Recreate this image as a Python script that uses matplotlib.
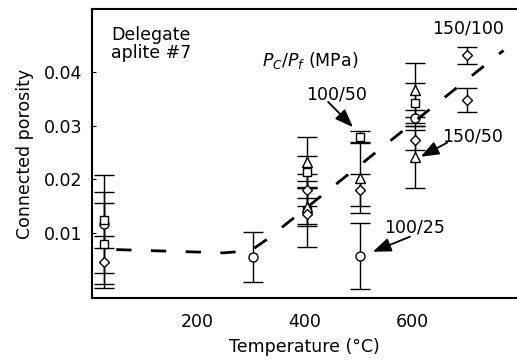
import numpy as np
import matplotlib
matplotlib.use("Agg")
import matplotlib.pyplot as plt

plt.rcParams["font.family"] = ["DejaVu Sans"]
plt.rcParams["mathtext.fontset"] = "dejavusans"

# Pc/Pf = 100/25 (circles)
circ_t = [28, 305, 503, 605]
circ_v = [0.0117, 0.0055, 0.0057, 0.0314]
circ_e = [0.0091, 0.0046, 0.0061, 0.0015]

# Pc/Pf = 100/50 (squares)
sq_t = [28, 28, 405, 405, 503, 605]
sq_v = [0.0124, 0.0080, 0.0214, 0.0141, 0.0279, 0.0342]
sq_e = [0.0052, 0.0075, 0.0030, 0.0025, 0.0010, 0.0037]

# Pc/Pf = 150/50 (triangles)
tri_t = [405, 405, 503, 605, 605]
tri_v = [0.0232, 0.0148, 0.0202, 0.0366, 0.0242]
tri_e = [0.0047, 0.0035, 0.0065, 0.0050, 0.0058]

# Pc/Pf = 150/100 (diamonds)
dia_t = [28, 405, 405, 503, 605, 702, 702]
dia_v = [0.0046, 0.0180, 0.0135, 0.0180, 0.0273, 0.0431, 0.0348]
dia_e = [0.0048, 0.0030, 0.0062, 0.0030, 0.0019, 0.0016, 0.0022]

# hand-drawn trend line
trend_t = [50, 150, 250, 300, 330, 770]
trend_v = [0.0069, 0.0066, 0.0063, 0.0067, 0.0088, 0.0440]

fs = 12.5

fig = plt.figure(figsize=(5.17, 3.62), dpi=100)
ax = fig.add_axes([0.178, 0.177, 0.822, 0.798])

series = [
    (circ_t, circ_v, circ_e, "o", 6.5),
    (sq_t, sq_v, sq_e, "s", 5.5),
    (tri_t, tri_v, tri_e, "^", 6.5),
    (dia_t, dia_v, dia_e, "D", 5.5),
]
for t, v, e, m, ms in series:
    ax.errorbar(t, v, yerr=e, fmt=m, ms=ms, mfc="white", mec="black", mew=1,
                ecolor="black", elinewidth=1, capsize=7, capthick=1, zorder=3)

ax.plot(trend_t, trend_v, color="black", lw=2, dashes=(5.5, 7), zorder=4)

ax.set_xlim(5, 795)
ax.set_ylim(-0.0021, 0.0517)
ax.set_xticks([200, 400, 600])
ax.set_yticks([0.01, 0.02, 0.03, 0.04])
ax.set_yticklabels(["0.01", "0.02", "0.03", "0.04"])
ax.tick_params(axis="x", direction="in", length=0, pad=11, labelsize=fs)
ax.tick_params(axis="y", direction="in", length=3, pad=7, labelsize=fs)
ax.spines["right"].set_visible(False)
for s in ["left", "top", "bottom"]:
    ax.spines[s].set_linewidth(1.5)

ax.set_xlabel("Temperature (°C)", fontsize=fs, labelpad=5)
ax.set_ylabel("Connected porosity", fontsize=fs, labelpad=7)

ax.text(0.045, 0.94, "Delegate\naplite #7", transform=ax.transAxes,
        fontsize=fs, va="top", ha="left", linespacing=1.0)
ax.text(321, 0.0422, r"$P_C/P_f$ (MPa)", fontsize=fs, va="center", ha="left")
ax.text(704, 0.0480, "150/100", fontsize=fs, va="center", ha="center")
ax.text(460, 0.0357, "100/50", fontsize=fs, va="center", ha="center")
ax.text(712, 0.0279, "150/50", fontsize=fs, va="center", ha="center")
ax.text(605, 0.0111, "100/25", fontsize=fs, va="center", ha="center")

arrow = dict(arrowstyle="-|>,head_length=1.1,head_width=0.42", color="black",
             lw=1.3, shrinkA=0, shrinkB=0)
ax.annotate("", xy=(490, 0.0297), xytext=(444, 0.0344), arrowprops=arrow)
ax.annotate("", xy=(616, 0.0242), xytext=(665, 0.0268), arrowprops=arrow)
ax.annotate("", xy=(527, 0.0065), xytext=(596, 0.0093), arrowprops=arrow)

fig.savefig("out.png", dpi=100)
